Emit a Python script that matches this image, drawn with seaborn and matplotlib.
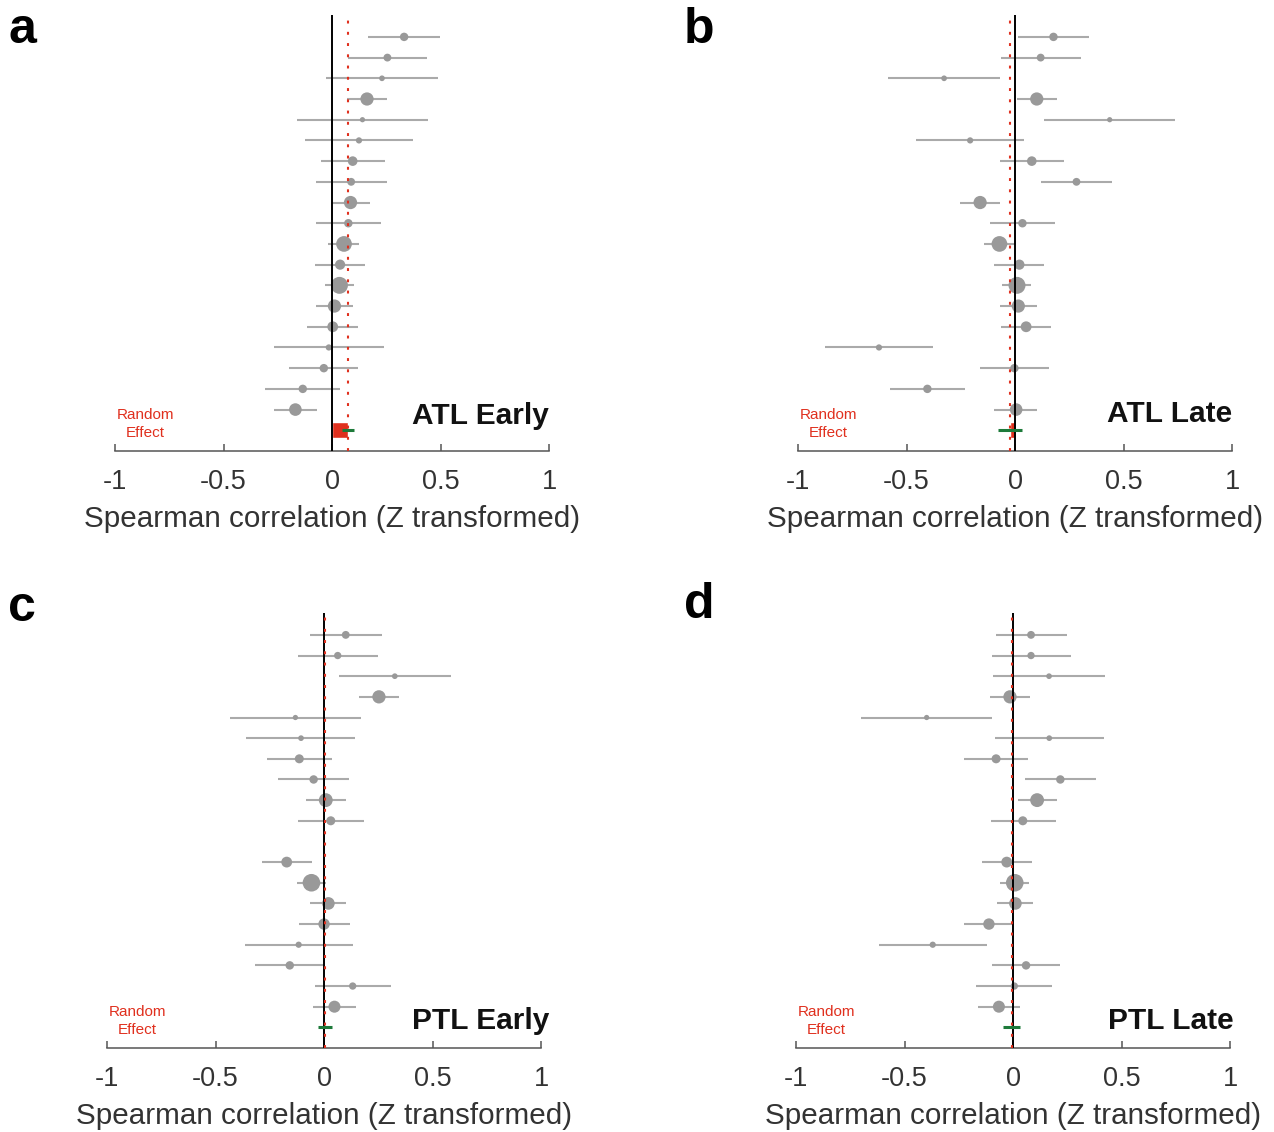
import numpy as np
import matplotlib
matplotlib.use('Agg')
import matplotlib.pyplot as plt
import seaborn as sns

sns.set_theme(style='white')
plt.rcParams['font.family'] = ['Liberation Sans', 'DejaVu Sans']

# per-subject Z-transformed Spearman correlation with 95% CI (top row first)
atl_early_est = [0.332, 0.255, 0.230, 0.161, 0.140, 0.124, 0.095, 0.088, 0.085, 0.075,
                 0.055, 0.037, 0.034, 0.011, 0.003, -0.015, -0.038, -0.135, -0.169]
atl_early_lo = [0.166, 0.072, -0.026, 0.069, -0.161, -0.126, -0.051, -0.075, -0.006, -0.075,
                -0.017, -0.078, -0.032, -0.074, -0.114, -0.266, -0.198, -0.309, -0.267]
atl_early_hi = [0.498, 0.438, 0.490, 0.253, 0.442, 0.375, 0.243, 0.252, 0.177, 0.227,
                0.126, 0.154, 0.100, 0.095, 0.121, 0.237, 0.118, 0.038, -0.071]

atl_late_est = [0.177, 0.118, -0.327, 0.100, 0.436, -0.207, 0.077, 0.283, -0.161, 0.034,
                -0.072, 0.020, 0.009, 0.015, 0.051, -0.627, -0.003, -0.404, 0.005]
atl_late_lo = [0.012, -0.065, -0.585, 0.008, 0.135, -0.458, -0.069, 0.120, -0.252, -0.117,
               -0.143, -0.095, -0.058, -0.069, -0.066, -0.876, -0.161, -0.576, -0.097]
atl_late_hi = [0.341, 0.303, -0.069, 0.192, 0.737, 0.041, 0.224, 0.445, -0.071, 0.184,
               0.005, 0.135, 0.074, 0.100, 0.167, -0.378, 0.155, -0.230, 0.100]

nan = np.nan
ptl_early_est = [0.100, 0.063, 0.326, 0.253, -0.132, -0.106, -0.114, -0.048, 0.008, 0.031,
                 nan, -0.172, -0.058, 0.020, 0.000, -0.117, -0.158, 0.132, 0.048]
ptl_early_lo = [-0.063, -0.120, 0.068, 0.161, -0.433, -0.358, -0.261, -0.212, -0.083, -0.120,
                nan, -0.287, -0.124, -0.066, -0.115, -0.366, -0.318, -0.041, -0.051]
ptl_early_hi = [0.266, 0.247, 0.584, 0.347, 0.170, 0.143, 0.035, 0.117, 0.100, 0.183,
                nan, -0.057, 0.009, 0.103, 0.118, 0.134, 0.000, 0.307, 0.149]

ptl_late_est = [0.083, 0.083, 0.166, -0.014, -0.398, 0.167, -0.078, 0.218, 0.111, 0.045,
                nan, -0.029, 0.008, 0.011, -0.111, -0.370, 0.060, 0.006, -0.065]
ptl_late_lo = [-0.080, -0.098, -0.091, -0.105, -0.699, -0.081, -0.224, 0.055, 0.021, -0.103,
               nan, -0.144, -0.058, -0.072, -0.226, -0.617, -0.098, -0.169, -0.163]
ptl_late_hi = [0.247, 0.266, 0.424, 0.078, -0.097, 0.418, 0.068, 0.382, 0.201, 0.197,
               nan, 0.086, 0.072, 0.094, 0.005, -0.121, 0.217, 0.178, 0.034]

# subject weights (marker area)
w_atl = [36, 30, 12, 100, 9, 16, 49, 30, 100, 36, 144, 56, 169, 100, 64, 16, 36, 36, 90]
w_ptl = [30, 25, 12, 100, 9, 12, 42, 36, 110, 42, nan, 64, 182, 90, 72, 16, 36, 25, 81]

# random effect: mean and CI
re_mean = {'a': 0.072, 'b': -0.024, 'c': 0.003, 'd': -0.005}
re_lo = {'a': 0.045, 'b': -0.080, 'c': -0.028, 'd': -0.045}
re_hi = {'a': 0.103, 'b': 0.034, 'c': 0.037, 'd': 0.032}

titles = {'a': 'ATL Early', 'b': 'ATL Late', 'c': 'PTL Early', 'd': 'PTL Late'}
xticks = [-1, -0.5, 0, 0.5, 1]
xticklabels = ['-1', '-0.5', '0', '0.5', '1']

panels = {
    'a': (atl_early_est, atl_early_lo, atl_early_hi, w_atl),
    'b': (atl_late_est, atl_late_lo, atl_late_hi, w_atl),
    'c': (ptl_early_est, ptl_early_lo, ptl_early_hi, w_ptl),
    'd': (ptl_late_est, ptl_late_lo, ptl_late_hi, w_ptl),
}
rects = {'a': [0.0903, 0.6016, 0.3407, 0.3852],
         'b': [0.6264, 0.6016, 0.3407, 0.3852],
         'c': [0.0840, 0.0742, 0.3407, 0.3843],
         'd': [0.6248, 0.0742, 0.3407, 0.3843]}
letter_pos = {'a': (0.0173, 0.9735), 'b': (0.549, 0.9735),
              'c': (0.0173, 0.4629), 'd': (0.549, 0.4655)}
title_xy = {'a': (1.0, 18.3), 'b': (1.0, 18.2), 'c': (1.04, 18.7), 'd': (1.015, 18.7)}

red = '#e0301e'
green = '#1d7a3a'
scale = 0.72 ** 2 * 1.7  # weight -> marker area (pt^2)

fig = plt.figure(figsize=(12.74, 11.32), dpi=100)

for key, (est, lo, hi, w) in panels.items():
    ax = fig.add_axes(rects[key])
    df = dict(est=np.array(est), lo=np.array(lo), hi=np.array(hi),
              w=np.array(w), row=np.arange(len(est)))
    ok = ~np.isnan(df['est'])
    ax.hlines(df['row'][ok], df['lo'][ok], df['hi'][ok], color='#aaaaaa', lw=1.5, zorder=2)
    wmin, wmax = np.nanmin(df['w']), np.nanmax(df['w'])
    sns.scatterplot(x=df['est'][ok], y=df['row'][ok], size=df['w'][ok],
                    sizes=(wmin * scale * 1.8, wmax * scale), size_norm=(wmin, wmax),
                    color='#999999', edgecolor='none', legend=False, ax=ax, zorder=3)

    re_row = len(est)
    ax.barh(re_row, re_mean[key], left=0, height=0.78, color=red, zorder=3)
    ax.hlines(re_row, re_lo[key], re_hi[key], color=green, lw=2.2, zorder=6)
    ax.axvline(0, color='black', lw=1.4, zorder=4)
    ax.axvline(re_mean[key], color=red, lw=1.5, ls=(0, (1.4, 4)), zorder=5)

    ax.set_xlim(-1, 1)
    ax.set_ylim(re_row + 1.0, -1.06)
    ax.set_yticks([])
    ax.set_xticks(xticks)
    ax.set_xticklabels(xticklabels)
    ax.tick_params(axis='x', direction='in', length=5, width=1.1, color='#555555',
                   labelsize=19.5, labelcolor='#333333', pad=13, bottom=True)
    ax.set_xlabel('Spearman correlation (Z transformed)', fontsize=21.3, color='#333333',
                  labelpad=7)
    sns.despine(ax=ax, left=True)
    ax.spines['bottom'].set_color('#555555')
    ax.spines['bottom'].set_linewidth(1.1)
    ax.set_facecolor('none')

    tx, ty = title_xy[key]
    ax.text(tx, ty, titles[key], ha='right', va='center', fontsize=21.5,
            fontweight='bold', color='#111111', clip_on=False)
    ax.text(-0.86, 18.7, 'Random\nEffect', ha='center', va='center', fontsize=11,
            color=red, linespacing=1.35)
    fig.text(*letter_pos[key], key, ha='center', va='center', fontsize=36,
             fontweight='bold', color='black')

fig.savefig('out.png', dpi=100, facecolor='white')
